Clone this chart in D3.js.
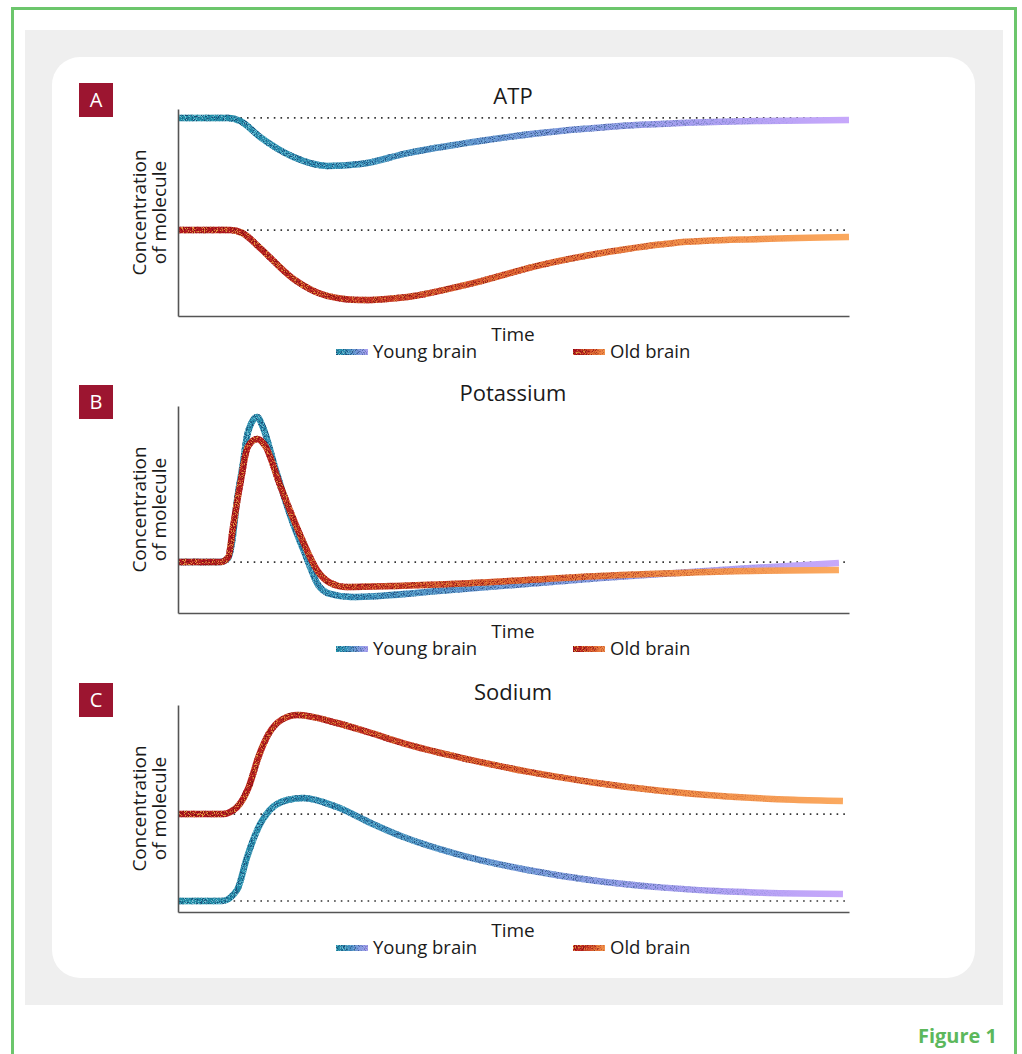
<!DOCTYPE html>
<html>
<head>
<meta charset="utf-8">
<title>Figure 1</title>
<script src="https://cdn.jsdelivr.net/npm/d3@7"></script>
<style>
  body { margin: 0; background: #fff; }
  svg text { font-family: "Open Sans", Lato, sans-serif; fill: #1a1a1a; }
</style>
</head>
<body>
<script>
// Panel names, letters and series
const panelTitles = ["ATP", "Potassium", "Sodium"];
const panelLetters = ["A", "B", "C"];
const seriesNames = ["Young brain", "Old brain"];

// Curves: [time (0-100), concentration (0-100)]
const atpYoung = [[0,95.7],[7.5,95.7],[9.3,94.2],[12.2,86.5],[17.2,76.8],[22.2,72.5],[27.2,73.4],
  [34.2,78.7],[44,84.1],[54,88.4],[64,91.3],[74.9,93.2],[86.9,94.2],[100,94.7]];
const atpOld = [[0,41.5],[7.8,41.5],[9.6,40.1],[12.2,32.9],[17.2,17.9],[22.2,9.7],[27.2,7.7],
  [34.2,9.2],[44,15.9],[54,24.6],[64,30.9],[73.9,35.3],[86.9,37.2],[100,38.2]];
const potYoung = [[0,24.6],[6.3,24.6],[7.5,26.6],[8.1,35.3],[8.8,54.6],[9.6,70.5],[10.4,87],
  [11.8,94.7],[12.7,89.4],[14.5,70],[16.7,47.3],[19,28],[20.9,13.5],[22.7,9.2],[25.7,7.7],
  [40.6,11.1],[63,16.9],[85.4,21.7],[98.5,24.2]];
const potOld = [[0,24.6],[6.3,24.6],[7.5,27.1],[8.2,41.5],[9.3,62.8],[10.4,80.2],[11.8,84.1],
  [13,80.7],[15.2,61.8],[18.2,37.7],[20.9,19.8],[22.7,14.5],[24.9,12.6],[40.6,14],[63,17.9],
  [85.4,20.3],[98.5,20.8]];
const sodYoung = [[0,5.3],[6.6,5.3],[8.8,10.6],[10.3,26.6],[11.8,39.6],[13.7,49.3],[16.3,54.1],
  [18.7,55.1],[23.7,50.7],[28.7,43],[33.6,36.2],[42.1,27.5],[52.1,20.3],[61.9,15.2],[71.9,11.9],
  [81.9,9.9],[99.1,8.7]];
const sodOld = [[0,47.3],[6.6,47.3],[8.8,50.7],[10.5,60],[12,75],[13.5,86],[15.5,93],[17.8,95.2],
  [23.7,91.3],[28.7,86.5],[33.6,81.5],[42.1,74.6],[52.1,67.8],[61.9,62.6],[71.9,58.6],[81.9,55.8],
  [91.8,54.2],[99.1,53.6]];

// Dotted reference levels per panel
const atpLevels = [95.7, 41.5];
const potLevels = [24.6];
const sodLevels = [47.3, 5.3];

const panelCurves = [[atpYoung, atpOld], [potYoung, potOld], [sodYoung, sodOld]];
const panelLevels = [atpLevels, potLevels, sodLevels];

// Page layout
const W = 1022, H = 1054;
const axisLeft = 178, axisRight = 849, plotH = 207;
const panelBottoms = [316, 613, 912];
const boxTops = [83, 385, 683];

const svg = d3.select("body").append("svg")
  .attr("width", W)
  .attr("height", H);

const defs = svg.append("defs");

// Grain filters to imitate the speckled strokes
function grainFilter(id, seed, cut) {
  const f = defs.append("filter")
    .attr("id", id)
    .attr("filterUnits", "userSpaceOnUse")
    .attr("x", 0).attr("y", 0).attr("width", W).attr("height", H);
  f.append("feTurbulence")
    .attr("type", "fractalNoise")
    .attr("baseFrequency", 1.1)
    .attr("numOctaves", 2)
    .attr("seed", seed)
    .attr("result", "noise");
  f.append("feColorMatrix")
    .attr("in", "noise")
    .attr("type", "matrix")
    .attr("values", `0 0 0 0 0  0 0 0 0 0  0 0 0 0 0  7 0 0 0 ${cut}`)
    .attr("result", "mask");
  f.append("feComposite")
    .attr("in", "SourceGraphic")
    .attr("in2", "mask")
    .attr("operator", "in");
}
grainFilter("grainDark", 3, -3.6);
grainFilter("grainLight", 11, -3.7);

// Colour ramps: base, dark speckles, light speckles
const ramps = [
  { base: ["#1f8fa6", "#2f8cb4", "#6f94d6", "#a79ef0", "#c7a8fb"],
    dark: "#1a3f6e", light: "#8fd6e6" },
  { base: ["#b0141f", "#c02a22", "#dc5c30", "#f08c48", "#fbaa60"],
    dark: "#7a0a12", light: "#f6c24a" }
];

let gradId = 0;
function makeGradient(x1, x2, stops) {
  const id = "g" + (gradId++);
  const g = defs.append("linearGradient")
    .attr("id", id)
    .attr("gradientUnits", "userSpaceOnUse")
    .attr("x1", x1).attr("x2", x2).attr("y1", 0).attr("y2", 0);
  stops.forEach(function(s) {
    g.append("stop")
      .attr("offset", s[0])
      .attr("stop-color", s[1])
      .attr("stop-opacity", s[2] === undefined ? 1 : s[2]);
  });
  return "url(#" + id + ")";
}

function baseStops(colors) {
  return colors.map(function(c, i) { return [i / (colors.length - 1), c]; });
}

// Draws one textured stroke (line or swatch) between x1 and x2
function texturedStroke(g, drawFn, x1, x2, ramp) {
  const base = makeGradient(x1, x2, baseStops(ramp.base));
  const dark = makeGradient(x1, x2, [[0, ramp.dark, 0.9], [0.6, ramp.dark, 0.6], [0.93, ramp.dark, 0]]);
  const light = makeGradient(x1, x2, [[0, ramp.light, 0.8], [0.55, ramp.light, 0.4], [0.85, ramp.light, 0]]);
  drawFn(g).attr("stroke", base);
  drawFn(g).attr("stroke", dark).attr("filter", "url(#grainDark)");
  drawFn(g).attr("stroke", light).attr("filter", "url(#grainLight)");
}

// Background frame
svg.append("rect")
  .attr("x", 12.5).attr("y", 8.5)
  .attr("width", 1003).attr("height", 1060)
  .attr("fill", "none")
  .attr("stroke", "#6cc66c")
  .attr("stroke-width", 3);

svg.append("rect")
  .attr("x", 25).attr("y", 30)
  .attr("width", 978).attr("height", 975)
  .attr("fill", "#efefef");

svg.append("rect")
  .attr("x", 52).attr("y", 57)
  .attr("width", 923).attr("height", 921)
  .attr("rx", 28).attr("ry", 28)
  .attr("fill", "#ffffff");

svg.append("text")
  .attr("x", 997).attr("y", 1043)
  .attr("text-anchor", "end")
  .style("font-size", "20px")
  .style("font-weight", "bold")
  .style("fill", "#5cb85c")
  .text("Figure 1");

const xScale = d3.scaleLinear()
  .domain([0, 100])
  .range([axisLeft, axisRight]);

panelTitles.forEach(function(title, p) {
  const bottom = panelBottoms[p];
  const yScale = d3.scaleLinear()
    .domain([0, 100])
    .range([bottom, bottom - plotH]);

  const g = svg.append("g").attr("class", "panel");

  // Letter box
  g.append("rect")
    .attr("x", 79).attr("y", boxTops[p])
    .attr("width", 34).attr("height", 34)
    .attr("fill", "#9c1530");
  g.append("text")
    .attr("x", 96).attr("y", boxTops[p] + 24)
    .attr("text-anchor", "middle")
    .style("font-size", "20px")
    .style("fill", "#ffffff")
    .text(panelLetters[p]);

  // Title
  g.append("text")
    .attr("x", 513).attr("y", bottom - 212)
    .attr("text-anchor", "middle")
    .style("font-size", "22px")
    .text(title);

  // Dotted reference lines
  g.selectAll(".level")
    .data(panelLevels[p])
    .enter()
    .append("line")
    .attr("class", "level")
    .attr("x1", axisLeft + 2).attr("x2", axisRight)
    .attr("y1", function(d) { return yScale(d); })
    .attr("y2", function(d) { return yScale(d); })
    .attr("stroke", "#333")
    .attr("stroke-width", 1.6)
    .attr("stroke-dasharray", "1.6 5.1");

  // Curves, old drawn first so young sits on top in A and C, reverse in B
  const line = d3.line()
    .x(function(d) { return xScale(d[0]); })
    .y(function(d) { return yScale(d[1]); })
    .curve(d3.curveMonotoneX);

  const order = p === 1 ? [0, 1] : [1, 0];
  order.forEach(function(s) {
    const pts = panelCurves[p][s];
    const xEnd = xScale(pts[pts.length - 1][0]);
    texturedStroke(g, function(sel) {
      return sel.append("path")
        .datum(pts)
        .attr("d", line)
        .attr("fill", "none")
        .attr("stroke-width", 6.5)
        .attr("stroke-linejoin", "round");
    }, axisLeft, xEnd, ramps[s]);
  });

  // Axes without ticks
  g.append("g")
    .attr("transform", `translate(0,${bottom})`)
    .call(d3.axisBottom(xScale).tickValues([]).tickSizeOuter(0));
  g.append("g")
    .attr("transform", `translate(${axisLeft},0)`)
    .call(d3.axisLeft(yScale).tickValues([]).tickSizeOuter(0));
  g.selectAll(".domain")
    .attr("stroke", "#555")
    .attr("stroke-width", 1.6);

  // Axis labels
  g.append("text")
    .attr("x", 513).attr("y", bottom + 25)
    .attr("text-anchor", "middle")
    .style("font-size", "19px")
    .text("Time");

  const yMid = bottom - plotH / 2;
  g.append("text")
    .attr("transform", `translate(146,${yMid}) rotate(-90)`)
    .attr("text-anchor", "middle")
    .style("font-size", "19px")
    .text("Concentration");
  g.append("text")
    .attr("transform", `translate(166,${yMid}) rotate(-90)`)
    .attr("text-anchor", "middle")
    .style("font-size", "19px")
    .text("of molecule");

  // Legend
  const legendX = [336, 573];
  seriesNames.forEach(function(name, s) {
    const lx = legendX[s];
    const ly = bottom + 36;
    texturedStroke(g, function(sel) {
      return sel.append("line")
        .attr("x1", lx).attr("x2", lx + 32)
        .attr("y1", ly).attr("y2", ly)
        .attr("stroke-width", 6);
    }, lx, lx + 40, ramps[s]);
    g.append("text")
      .attr("x", lx + 37).attr("y", ly + 6)
      .style("font-size", "18.5px")
      .text(name);
  });
});
</script>
</body>
</html>
